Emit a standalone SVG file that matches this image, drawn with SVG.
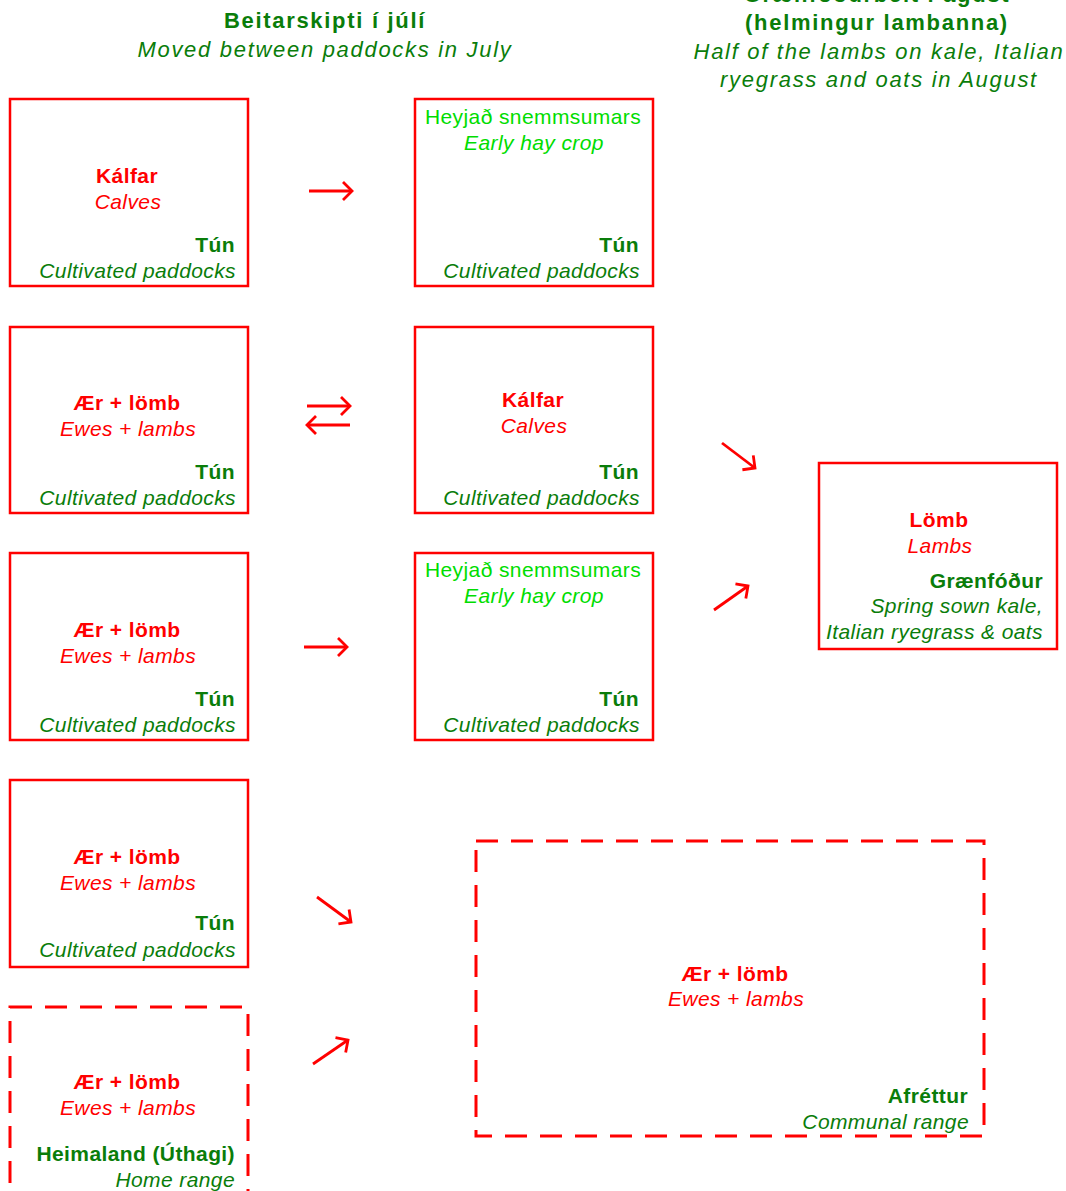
<svg xmlns="http://www.w3.org/2000/svg" width="1066" height="1191" viewBox="0 0 1066 1191">
<style>
text{font-family:"Liberation Sans",Arial,sans-serif;font-size:21px;letter-spacing:0.4px}
.b{font-weight:bold}
.i{font-style:italic}
.r{fill:#ff0000}
.g{fill:#0a7d0a}
.lg{fill:#00dd00}
.m{text-anchor:middle}
.e{text-anchor:end}
.hd{font-size:22px;letter-spacing:1.7px}
.box{fill:none;stroke:#ff0000;stroke-width:2.5}
.dash{fill:none;stroke:#ff0000;stroke-width:3;stroke-dasharray:22 13}
.arr{fill:none;stroke:#ff0000;stroke-width:2.8;marker-end:url(#ah)}
</style>
<defs>
<marker id="ah" markerUnits="userSpaceOnUse" markerWidth="20" markerHeight="20" refX="12" refY="9" orient="auto" overflow="visible">
<path d="M3,0 L12,9 L3,18" fill="none" stroke="#ff0000" stroke-width="2.8"/>
</marker>
</defs>
<rect width="1066" height="1191" fill="#ffffff"/>

<g id="header-left">
<text class="b g m hd" x="325" y="28">Beitarskipti  í  júlí</text>
<text class="i g m hd" x="325" y="57">Moved between paddocks in July</text>
</g>
<g id="header-right">
<text class="b g m hd" x="877" y="2">Grænfóðurbeit í ágúst</text>
<text class="b g m hd" x="877" y="30">(helmingur  lambanna)</text>
<text class="i g m hd" x="879" y="59">Half of the lambs on kale, Italian</text>
<text class="i g m hd" x="879" y="87">ryegrass and oats in August</text>
</g>

<g id="n1">
<rect class="box" x="10" y="99" width="238" height="187"/>
<text class="b r m" x="127" y="183">Kálfar</text>
<text class="i r m" x="128" y="209">Calves</text>
<text class="b g e" x="235" y="252">Tún</text>
<text class="i g e" x="236" y="278">Cultivated paddocks</text>
</g>
<g id="n2">
<rect class="box" x="415" y="99" width="238" height="187"/>
<text class="lg m" x="533" y="124">Heyjað snemmsumars</text>
<text class="i lg m" x="534" y="150">Early hay crop</text>
<text class="b g e" x="639" y="252">Tún</text>
<text class="i g e" x="640" y="278">Cultivated paddocks</text>
</g>
<g id="n3">
<rect class="box" x="10" y="327" width="238" height="186"/>
<text class="b r m" x="127" y="410">Ær + lömb</text>
<text class="i r m" x="128" y="436">Ewes + lambs</text>
<text class="b g e" x="235" y="479">Tún</text>
<text class="i g e" x="236" y="505">Cultivated paddocks</text>
</g>
<g id="n4">
<rect class="box" x="415" y="327" width="238" height="186"/>
<text class="b r m" x="533" y="407">Kálfar</text>
<text class="i r m" x="534" y="433">Calves</text>
<text class="b g e" x="639" y="479">Tún</text>
<text class="i g e" x="640" y="505">Cultivated paddocks</text>
</g>
<g id="n5">
<rect class="box" x="10" y="553" width="238" height="187"/>
<text class="b r m" x="127" y="637">Ær + lömb</text>
<text class="i r m" x="128" y="663">Ewes + lambs</text>
<text class="b g e" x="235" y="706">Tún</text>
<text class="i g e" x="236" y="732">Cultivated paddocks</text>
</g>
<g id="n6">
<rect class="box" x="415" y="553" width="238" height="187"/>
<text class="lg m" x="533" y="577">Heyjað snemmsumars</text>
<text class="i lg m" x="534" y="603">Early hay crop</text>
<text class="b g e" x="639" y="706">Tún</text>
<text class="i g e" x="640" y="732">Cultivated paddocks</text>
</g>
<g id="n7">
<rect class="box" x="10" y="780" width="238" height="187"/>
<text class="b r m" x="127" y="864">Ær + lömb</text>
<text class="i r m" x="128" y="890">Ewes + lambs</text>
<text class="b g e" x="235" y="930">Tún</text>
<text class="i g e" x="236" y="957">Cultivated paddocks</text>
</g>
<g id="n8">
<rect class="dash" x="10" y="1007" width="238" height="200"/>
<text class="b r m" x="127" y="1089">Ær + lömb</text>
<text class="i r m" x="128" y="1115">Ewes + lambs</text>
<text class="b g e" x="235" y="1161">Heimaland (Úthagi)</text>
<text class="i g e" x="235" y="1187">Home range</text>
</g>
<g id="n9">
<rect class="box" x="819" y="463" width="238" height="186"/>
<text class="b r m" x="939" y="527">Lömb</text>
<text class="i r m" x="940" y="553">Lambs</text>
<text class="b g e" x="1043" y="588">Grænfóður</text>
<text class="i g e" x="1043" y="613">Spring sown kale,</text>
<text class="i g e" x="1043" y="639">Italian ryegrass &amp; oats</text>
</g>
<g id="n10">
<rect class="dash" x="476" y="841" width="508" height="295"/>
<text class="b r m" x="735" y="981">Ær + lömb</text>
<text class="i r m" x="736" y="1006">Ewes + lambs</text>
<text class="b g e" x="968" y="1103">Afréttur</text>
<text class="i g e" x="969" y="1129">Communal range</text>
</g>

<g id="connectors">
<line class="arr" x1="309" y1="191" x2="352" y2="191"/>
<line class="arr" x1="307" y1="406" x2="350" y2="406"/>
<line class="arr" x1="350" y1="425" x2="307" y2="425"/>
<line class="arr" x1="304" y1="647" x2="347" y2="647"/>
<line class="arr" x1="722" y1="443" x2="755" y2="468"/>
<line class="arr" x1="714" y1="610" x2="748" y2="586"/>
<line class="arr" x1="317" y1="897" x2="351" y2="922"/>
<line class="arr" x1="313" y1="1064" x2="348" y2="1040"/>
</g>
</svg>
